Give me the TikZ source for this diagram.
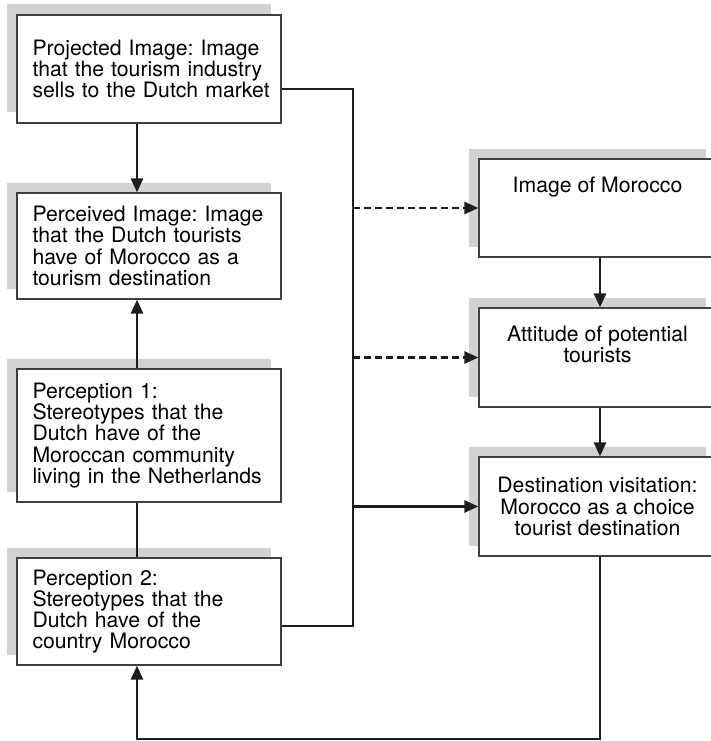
\documentclass[tikz,border=0pt]{standalone}
\usepackage{fontspec}
\setmainfont{TeX Gyre Heros}
\frenchspacing
\usetikzlibrary{arrows.meta,shadows}
\definecolor{shade}{HTML}{D1D2D4}
\definecolor{ink}{HTML}{1E1E1E}
\tikzset{
  box/.style={rectangle, draw=ink!85, line width=1.2pt, fill=white, inner ysep=0pt,
    font=\fontsize{21.2pt}{21.2pt}\selectfont,
    drop shadow={shadow xshift=-10.5pt, shadow yshift=10.5pt, fill=shade, opacity=1}},
  leftbox/.style={box, text width=233pt, inner xsep=15.5pt, align=left, minimum height=#1},
  rightbox/.style={box, minimum width=237pt, minimum height=#1},
  captxt/.style={inner sep=0pt, align=center, font=\fontsize{21.2pt}{21.2pt}\selectfont},
  conn/.style={draw=ink, line width=2.6pt},
  arr/.style={conn, -{Triangle[length=14pt,width=12pt]}},
  dasharr/.style={arr, dash pattern=on 7pt off 4pt},
}
\begin{document}
\begin{tikzpicture}[x=1pt, y=-1pt]
\useasboundingbox (0,0) rectangle (710,741);

% left column (each line kept whole in an \mbox)
\node[leftbox=108pt] (proj) at (149,69)
  {\mbox{Projected Image: Image}\\\mbox{that the tourism industry}\\\mbox{sells to the Dutch market}};
\node[leftbox=106pt] (perc) at (149,246)
  {\mbox{Perceived Image: Image}\\\mbox{that the Dutch tourists}\\\mbox{have of Morocco as a}\\\mbox{tourism destination}};
\node[leftbox=133pt] (p1) at (149,435.5)
  {\mbox{Perception 1:}\\\mbox{Stereotypes that the}\\\mbox{Dutch have of the}\\\mbox{Moroccan community}\\\mbox{living in the Netherlands}};
\node[leftbox=107pt] (p2) at (149,611.5)
  {\mbox{Perception 2:}\\\mbox{Stereotypes that the}\\\mbox{Dutch have of the}\\\mbox{country Morocco}};

% right column
\node[rightbox=98pt] (rimg) at (597.5,208) {};
\node[captxt, anchor=north] (rimgtxt) at ([yshift=-18.5pt]rimg.north) {Image of Morocco};
\node[rightbox=99pt] (ratt) at (597.5,357.5) {};
\node[captxt, anchor=north] (ratttxt) at ([yshift=-18.5pt]ratt.north) {Attitude of potential\\tourists};
\node[rightbox=99pt, align=center] (rdest) at (597.5,506.5)
  {Destination visitation:\\Morocco as a choice\\tourist destination};

% guide coordinates for the connector lines
\coordinate (cx) at (137,0);
\coordinate (rx) at (600,0);
\coordinate (bt) at (353,89);
\coordinate (bb) at (353,626);
\coordinate (loopR) at (600,739);
\coordinate (loopL) at (137,739);

% left column links
\draw[arr] (proj.south -| cx) -- (perc.north -| cx);
\draw[arr] (p1.north -| cx) -- (perc.south -| cx);
\draw[conn] (p1.south -| cx) -- (p2.north -| cx);

% bus from the projected image and perception 2
\draw[conn] (proj.east |- bt) -- (bt) -- (bb) -- (p2.east |- bb);
\draw[dasharr] (rimg.west -| bt) -- (rimg.west);
\draw[dasharr] (ratt.west -| bt) -- (ratt.west);
\draw[arr] (rdest.west -| bt) -- (rdest.west);

% right column links
\draw[arr] (rimg.south -| rx) -- (ratt.north -| rx);
\draw[arr] (ratt.south -| rx) -- (rdest.north -| rx);

% feedback loop
\draw[arr] (rdest.south -| rx) -- (loopR) -- (loopL) -- (p2.south -| cx);
\end{tikzpicture}
\end{document}
